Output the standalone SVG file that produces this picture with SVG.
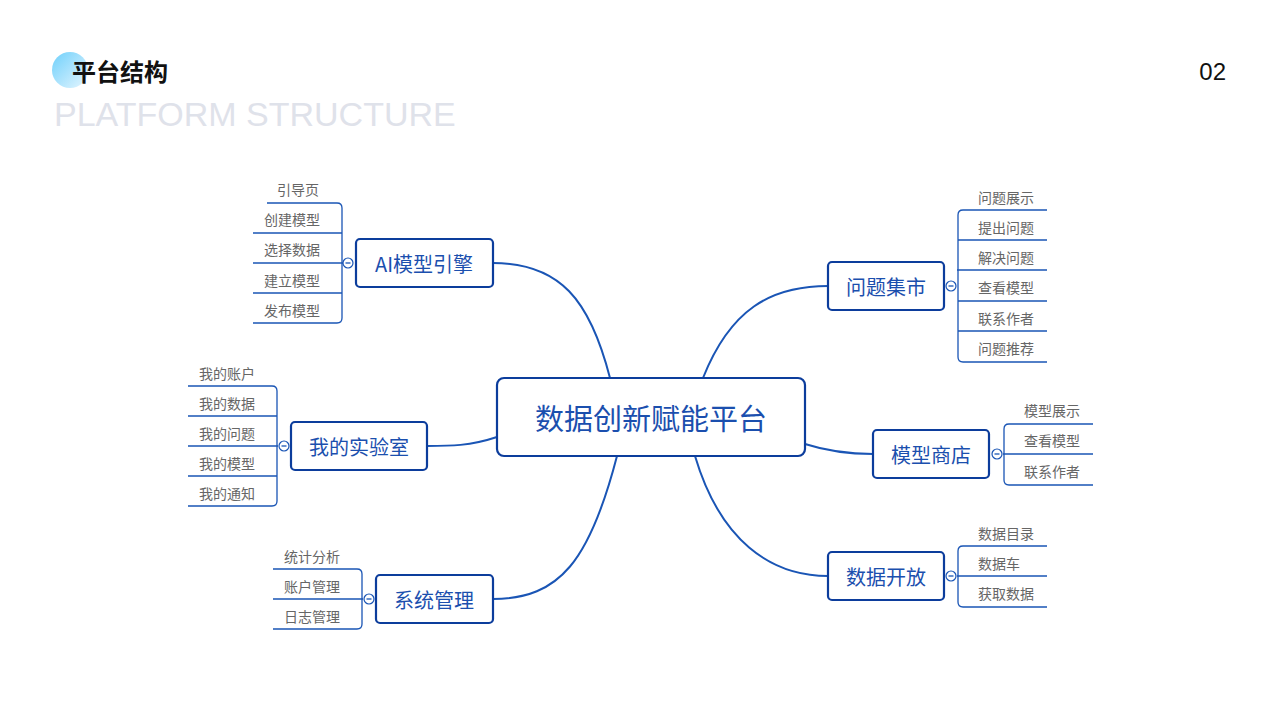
<svg xmlns="http://www.w3.org/2000/svg" width="1280" height="720" viewBox="0 0 1280 720">
<defs>
<linearGradient id="g" x1="0" y1="0" x2="1" y2="1"><stop offset="0" stop-color="#6fd0fb"/><stop offset="1" stop-color="#e6f6ff"/></linearGradient>
</defs>
<style>
text{font-family:"Noto Sans CJK SC","Liberation Sans",sans-serif}
text.lat{font-family:"Liberation Sans",sans-serif}
.leaf{font-size:14px;fill:#666;text-anchor:middle;dominant-baseline:central}
.sub{font-size:20px;fill:#1b4fae;text-anchor:middle;dominant-baseline:central}
.box{fill:#fff;stroke:#0c3d9c;stroke-width:2.2}
.ln{fill:none;stroke:#1a55b5;stroke-width:1.3}
.cur{fill:none;stroke:#1a55b5;stroke-width:2}
.dot{fill:#fff;stroke:#1a55b5;stroke-width:1.2}
</style>
<rect width="1280" height="720" fill="#fff"/>
<circle cx="70" cy="70" r="18" fill="url(#g)"/>
<text x="72" y="81" font-size="24" font-weight="bold" fill="#111">平台结构</text>
<text class="lat" x="54" y="126" font-size="34" fill="#dfe2ea">PLATFORM STRUCTURE</text>
<text class="lat" x="1226" y="80" font-size="24" fill="#111" text-anchor="end">02</text>
<g id="connectors">
<path class="cur" d="M610 378 C590 300 560 263 493 263"/>
<path class="cur" d="M497 437 C470 446 450 446 427 446"/>
<path class="cur" d="M617 456 C590 560 560 599 493 599"/>
<path class="cur" d="M703 378 C730 310 770 286 828 286"/>
<path class="cur" d="M805 444 C830 452 850 454 873 454"/>
<path class="cur" d="M695 456 C720 540 770 576 828 576"/>
</g>
<g id="center"><rect class="box" x="497" y="378" width="308" height="78" rx="7" stroke-width="3"/><text x="651" y="417" font-size="29" fill="#1b4fae" text-anchor="middle" dominant-baseline="central">数据创新赋能平台</text></g>
<g id="ai">
<path class="ln" d="M267 203H337Q342 203 342 208V318Q342 323 337 323H253M253 233H342M253 263H343M253 293H342"/>
<circle class="dot" cx="348" cy="263" r="5"/><path class="ln" d="M345.5 263H350.5"/>
<rect class="box" x="356" y="239" width="137" height="48" rx="4"/><text class="sub" x="424" y="263">AI模型引擎</text>
<text class="leaf" x="298" y="189">引导页</text><text class="leaf" x="292" y="219">创建模型</text><text class="leaf" x="292" y="249">选择数据</text><text class="leaf" x="292" y="280">建立模型</text><text class="leaf" x="292" y="310">发布模型</text>
</g>
<g id="lab">
<path class="ln" d="M188 386H272Q277 386 277 391V501Q277 506 272 506H188M188 416H277M188 446H278M188 476H277"/>
<circle class="dot" cx="284" cy="446" r="5"/><path class="ln" d="M281.5 446H286.5"/>
<rect class="box" x="291" y="422" width="136" height="48" rx="4"/><text class="sub" x="359" y="446">我的实验室</text>
<text class="leaf" x="227" y="373">我的账户</text><text class="leaf" x="227" y="403">我的数据</text><text class="leaf" x="227" y="433">我的问题</text><text class="leaf" x="227" y="463">我的模型</text><text class="leaf" x="227" y="493">我的通知</text>
</g>
<g id="sys">
<path class="ln" d="M273 569H357Q362 569 362 574V624Q362 629 357 629H273M273 599H363"/>
<circle class="dot" cx="369" cy="599" r="5"/><path class="ln" d="M366.5 599H371.5"/>
<rect class="box" x="376" y="575" width="117" height="48" rx="4"/><text class="sub" x="434" y="599">系统管理</text>
<text class="leaf" x="312" y="556">统计分析</text><text class="leaf" x="312" y="586">账户管理</text><text class="leaf" x="312" y="616">日志管理</text>
</g>
<g id="wenti">
<path class="ln" d="M1047 210H963Q958 210 958 215V357Q958 362 963 362H1047M958 240H1047M957 270H1047M958 301H1047M958 331H1047"/>
<circle class="dot" cx="951" cy="286" r="5"/><path class="ln" d="M948.5 286H953.5"/>
<rect class="box" x="828" y="262" width="116" height="48" rx="4"/><text class="sub" x="886" y="286">问题集市</text>
<text class="leaf" x="1006" y="197">问题展示</text><text class="leaf" x="1006" y="227">提出问题</text><text class="leaf" x="1006" y="257">解决问题</text><text class="leaf" x="1006" y="287">查看模型</text><text class="leaf" x="1006" y="318">联系作者</text><text class="leaf" x="1006" y="348">问题推荐</text>
</g>
<g id="shop">
<path class="ln" d="M1093 424H1009Q1004 424 1004 429V480Q1004 485 1009 485H1093M1003 454H1093"/>
<circle class="dot" cx="997" cy="454" r="5"/><path class="ln" d="M994.5 454H999.5"/>
<rect class="box" x="873" y="430" width="116" height="48" rx="4"/><text class="sub" x="931" y="454">模型商店</text>
<text class="leaf" x="1052" y="410">模型展示</text><text class="leaf" x="1052" y="440">查看模型</text><text class="leaf" x="1052" y="471">联系作者</text>
</g>
<g id="open">
<path class="ln" d="M1047 546H963Q958 546 958 551V602Q958 607 963 607H1047M957 576H1047"/>
<circle class="dot" cx="951" cy="576" r="5"/><path class="ln" d="M948.5 576H953.5"/>
<rect class="box" x="828" y="552" width="116" height="48" rx="4"/><text class="sub" x="886" y="576">数据开放</text>
<text class="leaf" x="1006" y="533">数据目录</text><text class="leaf" x="999" y="563">数据车</text><text class="leaf" x="1006" y="593">获取数据</text>
</g>
</svg>
